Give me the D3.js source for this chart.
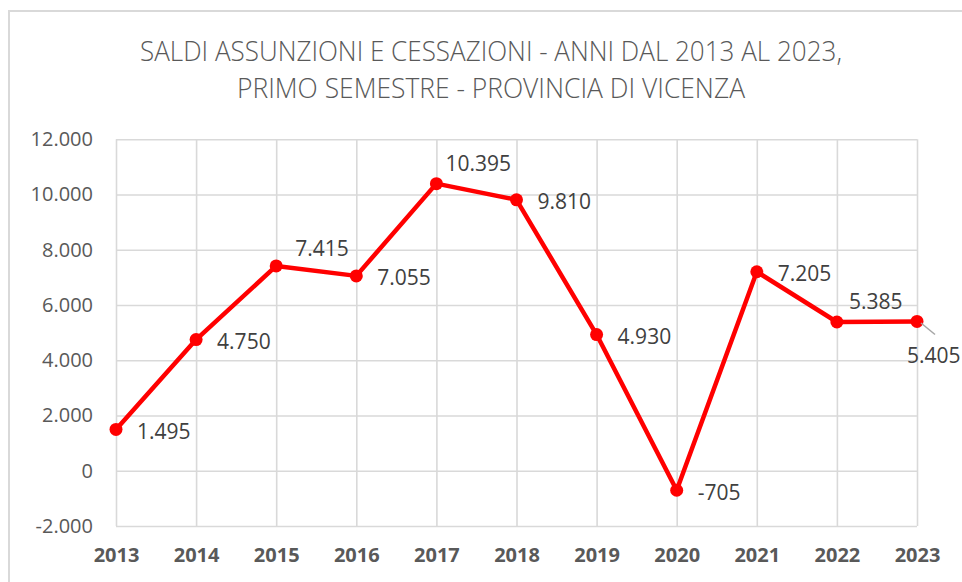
<!DOCTYPE html>
<html>
<head>
<meta charset="utf-8">
<script src="https://cdn.jsdelivr.net/npm/d3@7"></script>
<style>
  body { margin: 0; background: #fff; }
  svg text { font-family: "Open Sans", "Liberation Sans", sans-serif; }
</style>
</head>
<body>
<div class="container"></div>
<script>
// data
const years = [2013, 2014, 2015, 2016, 2017, 2018, 2019, 2020, 2021, 2022, 2023];
const saldi = [1495, 4750, 7415, 7055, 10395, 9810, 4930, -705, 7205, 5385, 5405];
const yTicks = [-2000, 0, 2000, 4000, 6000, 8000, 10000, 12000];
const titleLines = ["SALDI ASSUNZIONI E CESSAZIONI - ANNI DAL 2013 AL 2023,", "PRIMO SEMESTRE - PROVINCIA DI VICENZA"];

const w = 962, h = 582;
const plotL = 116, plotR = 917, plotT = 139.3, plotB = 526;

const fmt = d3.formatLocale({ decimal: ",", thousands: ".", grouping: [3], currency: ["", ""], minus: "-" }).format(",d");

const svg = d3.select(".container").append("svg")
  .attr("width", w).attr("height", h);

// outer frame of the chart
svg.append("path")
  .attr("d", "M9,590 V11 H970")
  .attr("fill", "none")
  .attr("stroke", "#d9d9d9")
  .attr("stroke-width", 2);

// title
svg.selectAll(".title")
  .data(titleLines)
  .enter().append("text")
  .attr("class", "title")
  .attr("x", 491)
  .attr("y", (d, i) => 61 + i * 36.5)
  .attr("text-anchor", "middle")
  .attr("font-size", 27)
  .attr("font-weight", 300)
  .attr("fill", "#595959")
  .attr("textLength", (d, i) => i == 0 ? 702 : 508)
  .attr("lengthAdjust", "spacingAndGlyphs")
  .text(d => d);

const xScale = d3.scalePoint().domain(years).range([plotL, plotR]);
const yScale = d3.scaleLinear().domain([-2000, 12000]).range([plotB, plotT]);

// horizontal gridlines + y labels
const yAxis = d3.axisLeft(yScale)
  .tickValues(yTicks)
  .tickSize(-(plotR - plotL))
  .tickPadding(23)
  .tickFormat(fmt);

const gy = svg.append("g")
  .attr("transform", "translate(" + plotL + ",0)")
  .call(yAxis);
gy.select(".domain").remove();
gy.selectAll("line").attr("stroke", "#d9d9d9").attr("stroke-width", 1.6);
gy.selectAll("text")
  .attr("font-size", 20)
  .attr("fill", "#595959")
  .style("font-family", "'Open Sans', sans-serif");

// vertical gridlines + year labels
const xAxis = d3.axisBottom(xScale)
  .tickSize(-(plotB - plotT))
  .tickPadding(22);

const gx = svg.append("g")
  .attr("transform", "translate(0," + plotB + ")")
  .call(xAxis);
gx.select(".domain").remove();
gx.selectAll("line").attr("stroke", "#d9d9d9").attr("stroke-width", 1.6);
gx.selectAll("text")
  .attr("font-size", 20)
  .attr("font-weight", "bold")
  .attr("fill", "#595959")
  .style("font-family", "'Open Sans', sans-serif");

// line
const line = d3.line()
  .x((d, i) => xScale(years[i]))
  .y(d => yScale(d));

svg.append("path")
  .datum(saldi)
  .attr("d", line)
  .attr("fill", "none")
  .attr("stroke", "#ff0000")
  .attr("stroke-width", 4.5)
  .attr("stroke-linejoin", "round");

svg.selectAll(".dot")
  .data(saldi)
  .enter().append("circle")
  .attr("class", "dot")
  .attr("cx", (d, i) => xScale(years[i]))
  .attr("cy", d => yScale(d))
  .attr("r", 6.5)
  .attr("fill", "#ff0000");

// label offsets (Excel had some moved by hand)
const labelShift = { 2015: [19, -18], 2017: [9, -20], 2022: [12, -21], 2023: [-10, 34] };

// leader line for the last label
svg.append("line")
  .attr("x1", xScale(2023) + 4).attr("y1", yScale(5405) + 1.5)
  .attr("x2", xScale(2023) + 18).attr("y2", yScale(5405) + 13)
  .attr("stroke", "#a6a6a6")
  .attr("stroke-width", 1.5);

svg.selectAll(".lbl")
  .data(saldi)
  .enter().append("text")
  .attr("class", "lbl")
  .attr("x", (d, i) => xScale(years[i]) + (labelShift[years[i]] || [21, 2])[0])
  .attr("y", (d, i) => yScale(d) + (labelShift[years[i]] || [21, 2])[1])
  .attr("dy", "0.36em")
  .attr("font-size", 21)
  .attr("fill", "#404040")
  .text(d => fmt(d));
</script>
</body>
</html>
